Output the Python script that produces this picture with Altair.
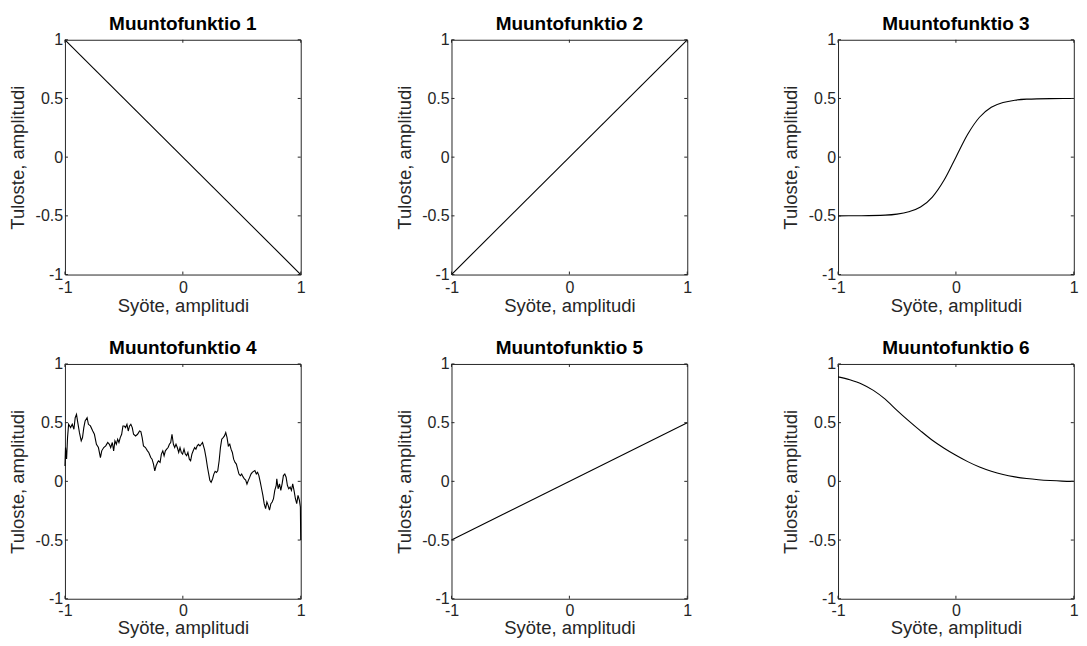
import altair as alt
import pandas as pd

FONT = "Liberation Sans"
FRAME = "#262626"
W = 236
H = 235

titles = ["Muuntofunktio 1", "Muuntofunktio 2", "Muuntofunktio 3",
          "Muuntofunktio 4", "Muuntofunktio 5", "Muuntofunktio 6"]
x_title = "Syöte, amplitudi"
y_title = "Tuloste, amplitudi"
x_ticks = [-1, 0, 1]
y_ticks = [-1, -0.5, 0, 0.5, 1]

x1 = [-1, 1]
y1 = [1, -1]

x2 = [-1, 1]
y2 = [-1, 1]

x3 = [-1, -0.8, -0.6, -0.5, -0.4, -0.3, -0.2, -0.1, 0, 0.1, 0.2, 0.3, 0.4, 0.5, 0.6, 0.8, 1]
y3 = [-0.5, -0.499, -0.494, -0.485, -0.465, -0.425, -0.34, -0.195, 0.0, 0.195, 0.34, 0.425,
      0.465, 0.485, 0.494, 0.499, 0.5]

x4 = [-1.000, -0.995, -0.986, -0.978, -0.969, -0.952, -0.938, -0.924, -0.913, -0.902, -0.891,
      -0.877, -0.862, -0.851, -0.840, -0.829, -0.812, -0.801, -0.784, -0.764, -0.750, -0.733,
      -0.716, -0.699, -0.688, -0.671, -0.654, -0.637, -0.623, -0.612, -0.598, -0.587, -0.576,
      -0.564, -0.553, -0.542, -0.531, -0.519, -0.508, -0.497, -0.486, -0.474, -0.463, -0.452,
      -0.441, -0.429, -0.418, -0.401, -0.384, -0.367, -0.356, -0.345, -0.334, -0.317, -0.300,
      -0.289, -0.272, -0.261, -0.249, -0.238, -0.227, -0.215, -0.207, -0.193, -0.182, -0.170,
      -0.159, -0.148, -0.137, -0.125, -0.114, -0.103, -0.092, -0.080, -0.069, -0.058, -0.047,
      -0.035, -0.024, -0.013, -0.002, 0.010, 0.021, 0.032, 0.043, 0.055, 0.066, 0.077, 0.088,
      0.100, 0.111, 0.122, 0.133, 0.145, 0.156, 0.167, 0.184, 0.197, 0.209, 0.220, 0.229,
      0.240, 0.252, 0.263, 0.274, 0.285, 0.296, 0.308, 0.319, 0.330, 0.342, 0.353, 0.364,
      0.375, 0.386, 0.398, 0.409, 0.420, 0.431, 0.443, 0.454, 0.465, 0.476, 0.488, 0.499,
      0.510, 0.522, 0.533, 0.544, 0.555, 0.567, 0.578, 0.589, 0.600, 0.611, 0.623, 0.634,
      0.645, 0.657, 0.668, 0.679, 0.690, 0.702, 0.713, 0.724, 0.735, 0.747, 0.758, 0.769,
      0.780, 0.792, 0.797, 0.808, 0.820, 0.831, 0.842, 0.853, 0.865, 0.876, 0.887, 0.898,
      0.910, 0.921, 0.932, 0.943, 0.955, 0.966, 0.977, 0.989, 0.997, 1.000]
y4 = [0.13, 0.288, 0.19, 0.373, 0.486, 0.458, 0.486, 0.444, 0.542, 0.571, 0.50,
      0.415, 0.345, 0.373, 0.458, 0.514, 0.542, 0.486, 0.472, 0.429, 0.401, 0.316,
      0.288, 0.203, 0.26, 0.288, 0.302, 0.331, 0.316, 0.288, 0.331, 0.26, 0.345,
      0.316, 0.359, 0.331, 0.373, 0.401, 0.472, 0.472, 0.458, 0.486, 0.429, 0.472,
      0.486, 0.458, 0.401, 0.387, 0.401, 0.429, 0.424, 0.373, 0.302, 0.288, 0.26,
      0.246, 0.203, 0.189, 0.147, 0.09, 0.133, 0.161, 0.175, 0.161, 0.232, 0.26,
      0.218, 0.26, 0.274, 0.288, 0.316, 0.331, 0.401, 0.316, 0.288, 0.316, 0.288,
      0.246, 0.288, 0.246, 0.232, 0.274, 0.232, 0.218, 0.246, 0.189, 0.175, 0.232, 0.26,
      0.288, 0.274, 0.302, 0.316, 0.302, 0.316, 0.331, 0.27, 0.2, 0.12, 0.06, 0.01,
      -0.008, 0.02, 0.062, 0.085, 0.076, 0.09, 0.175, 0.288, 0.359, 0.373, 0.387, 0.415,
      0.373, 0.302, 0.316, 0.274, 0.246, 0.189, 0.161, 0.147, 0.105, 0.062, 0.048, 0.062,
      0.04, 0.02, 0.011, -0.023, 0.006, 0.034, 0.062, 0.076, 0.085, 0.092, 0.063, 0.077,
      0.049, -0.007, -0.063, -0.12, -0.19, -0.232, -0.176, -0.204, -0.246, -0.19, -0.176, -0.148,
      -0.077, -0.035, 0.021, -0.063, -0.021, -0.077, -0.021, 0.049, 0.063, 0.035, -0.035, -0.063,
      -0.049, -0.077, -0.021, -0.077, -0.148, -0.19, -0.12, -0.162, -0.218, -0.5]

x5 = [-1, 1]
y5 = [-0.5, 0.5]

x6 = [-1, -0.9, -0.8, -0.7, -0.6, -0.5, -0.4, -0.3, -0.2, -0.1, 0, 0.1, 0.2, 0.3, 0.4, 0.5,
      0.6, 0.7, 0.8, 0.9, 1]
y6 = [0.89, 0.865, 0.83, 0.775, 0.70, 0.605, 0.515, 0.43, 0.35, 0.282, 0.222, 0.168, 0.122,
      0.086, 0.058, 0.038, 0.024, 0.014, 0.007, 0.002, 0.0]

series = [(x1, y1, "linear"), (x2, y2, "linear"), (x3, y3, "monotone"),
          (x4, y4, "linear"), (x5, y5, "linear"), (x6, y6, "monotone")]

scale = alt.Scale(domain=[-1, 1], nice=False, zero=False)
yax = alt.Axis(values=y_ticks, title=y_title, labelExpr="toString(datum.value)")


def panel(title, xs, ys, interp, row):
    if row == 0:
        xax = alt.Axis(values=x_ticks, title=x_title, labelExpr="toString(datum.value)",
                       labelPadding=5, titlePadding=1)
    else:
        xax = alt.Axis(values=x_ticks, title=x_title, labelExpr="toString(datum.value)",
                       labelPadding=4, titlePadding=0)
    df = pd.DataFrame({"x": xs, "y": ys})
    line = alt.Chart(df).mark_line(color="black", strokeWidth=1.1, interpolate=interp).encode(
        x=alt.X("x:Q", scale=scale, axis=xax),
        y=alt.Y("y:Q", scale=scale, axis=yax),
    )
    xt = pd.DataFrame({"x": x_ticks})
    yt = pd.DataFrame({"y": y_ticks})
    bottom = alt.Chart(xt).mark_rule(color=FRAME, strokeWidth=1).encode(
        x=alt.X("x:Q", scale=scale, axis=xax), y=alt.value(H), y2=alt.value(H - 3))
    top = alt.Chart(xt).mark_rule(color=FRAME, strokeWidth=1).encode(
        x=alt.X("x:Q", scale=scale, axis=xax), y=alt.value(0), y2=alt.value(3))
    left = alt.Chart(yt).mark_rule(color=FRAME, strokeWidth=1).encode(
        y=alt.Y("y:Q", scale=scale, axis=yax), x=alt.value(0), x2=alt.value(3))
    right = alt.Chart(yt).mark_rule(color=FRAME, strokeWidth=1).encode(
        y=alt.Y("y:Q", scale=scale, axis=yax), x=alt.value(W), x2=alt.value(W - 3))
    return alt.layer(line, bottom, top, left, right).properties(
        width=W, height=H,
        title=alt.TitleParams(title, font=FONT, fontSize=19, fontWeight="bold",
                              color="black", anchor="middle", offset=-2, frame="group"),
    )


panels = [panel(t, xs, ys, it, i // 3) for i, (t, (xs, ys, it)) in enumerate(zip(titles, series))]

chart = alt.concat(*panels, columns=3, spacing={"row": 89.5, "column": 150.9},
                   bounds="flush").properties(
    padding={"left": 0, "top": 5.5, "right": 0, "bottom": 0}
).configure_view(
    stroke=FRAME, strokeWidth=1
).configure_axis(
    labelFont=FONT, labelFontSize=16, labelColor=FRAME,
    titleFont=FONT, titleFontSize=18.5, titleFontWeight="normal", titleColor=FRAME,
    domain=False, ticks=False, tickSize=0, grid=False,
    labelFlush=False, labelOverlap=False,
).configure_axisY(labelPadding=2.3, titlePadding=7.6)

chart.save("out.html", embed_options={"renderer": "svg", "actions": False})
